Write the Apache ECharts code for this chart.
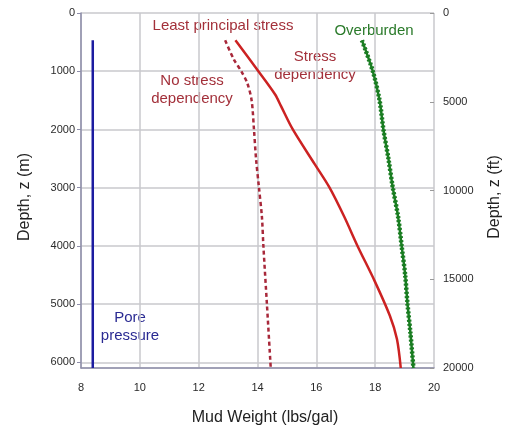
<!DOCTYPE html>
<html><head><meta charset="utf-8">
<script src="https://cdn.jsdelivr.net/npm/echarts@6/dist/echarts.min.js"></script>
<style>html,body{margin:0;padding:0;background:#fff}#c{width:507px;height:429px}</style>
</head><body><div id="c"></div>
<script>
// Depths in metres, mud weights in lbs/gal
var xTicks = [8, 10, 12, 14, 16, 18, 20];
var depthTicksM = [0, 1000, 2000, 3000, 4000, 5000, 6000];
var depthTicksFt = [0, 5000, 10000, 15000, 20000];

var poreDepth = [470, 6096];
var poreMW = [8.4, 8.4];

var stressDepDepth = [470, 1000, 1400, 1600, 2000, 2600, 3000, 3500, 4000, 4600, 5200, 5600, 6096];
var stressDepMW    = [13.25, 14.03, 14.6, 14.8, 15.2, 15.95, 16.45, 16.95, 17.4, 17.98, 18.5, 18.74, 18.87];

var noStressDepth = [470, 800, 1000, 1200, 1500, 2000, 2500, 3000, 3500, 4000, 5000, 6096];
var noStressMW    = [12.9, 13.2, 13.45, 13.65, 13.8, 13.88, 13.95, 14.05, 14.15, 14.2, 14.32, 14.45];

var overDepth = [470, 1000, 1500, 2000, 2500, 3000, 3500, 4000, 4500, 5000, 5500, 6096];
var overMW    = [17.55, 17.92, 18.15, 18.28, 18.45, 18.6, 18.78, 18.9, 19.02, 19.1, 19.2, 19.3];

function pairs(xs, ds){ return xs.map(function(v,i){ return [v, ds[i]]; }); }

var chart = echarts.init(document.getElementById('c'), null, {renderer:'canvas'});
var F = 'Liberation Sans, Arial, sans-serif';
var lblCol = '#2a2a2a';
chart.setOption({
  animation:false,
  backgroundColor:'#fff',
  grid:{left:81, right:73, top:13, bottom:61, containLabel:false},
  xAxis:{type:'value', min:xTicks[0], max:xTicks[xTicks.length-1], interval:2,
    axisLine:{show:true, onZero:false, lineStyle:{color:'#8e8eaa', width:1.5}},
    axisTick:{show:false},
    axisLabel:{color:lblCol, fontFamily:F, fontSize:11, margin:14},
    splitLine:{show:true, lineStyle:{color:'#c8c8cc', width:1.5}}
  },
  yAxis:[
    {type:'value', inverse:true, min:0, max:6096, interval:1000,
     axisLine:{show:true, onZero:false, lineStyle:{color:'#8e8eaa', width:1.5}},
     axisTick:{show:true, length:4, lineStyle:{color:'#8e8eaa'}},
     axisLabel:{color:lblCol, fontFamily:F, fontSize:11, margin:6, showMaxLabel:false,
       formatter:function(v){ return depthTicksM.indexOf(v)>=0 ? String(v) : ''; }},
     splitLine:{show:true, lineStyle:{color:'#c8c8cc', width:1.5}}
    },
    {type:'value', inverse:true, min:0, max:20000, interval:5000, position:'right',
     axisLine:{show:false},
     axisTick:{show:true, inside:true, length:4, lineStyle:{color:'#999'}},
     axisLabel:{color:lblCol, fontFamily:F, fontSize:11, margin:9,
       formatter:function(v){ return depthTicksFt.indexOf(v)>=0 ? String(v) : ''; }},
     splitLine:{show:false}
    }
  ],
  series:[
    {type:'line', name:'Pore pressure', data:pairs(poreMW, poreDepth), showSymbol:false,
     lineStyle:{color:'#1c1ca0', width:2.5}},
    {type:'line', name:'No stress dependency', data:pairs(noStressMW, noStressDepth), showSymbol:false, smooth:0.3,
     lineStyle:{color:'#a8283a', width:2.5, type:[4,3]}},
    {type:'line', name:'Stress dependency', data:pairs(stressDepMW, stressDepDepth), showSymbol:false, smooth:0.3,
     lineStyle:{color:'#cc2222', width:2.5}},
    {type:'line', name:'Overburden', data:pairs(overMW, overDepth), showSymbol:false, smooth:0.3,
     lineStyle:{color:'#1a7d22', width:2.5}},
    {type:'line', name:'Overburden (dotted)', data:pairs(overMW, overDepth), showSymbol:false, smooth:0.3,
     lineStyle:{color:'#1a7d22', width:4.5, type:[2,2]}}
  ],
  graphic:[
    {type:'text', x:25, y:197, rotation:Math.PI/2, style:{text:'Depth, z (m)', font:'16px '+F, fill:'#222', align:'center', verticalAlign:'middle'}},
    {type:'text', x:495, y:197, rotation:Math.PI/2, style:{text:'Depth, z (ft)', font:'16px '+F, fill:'#222', align:'center', verticalAlign:'middle'}},
    {type:'text', x:265, y:418, style:{text:'Mud Weight (lbs/gal)', font:'16px '+F, fill:'#222', align:'center', verticalAlign:'middle'}},
    {type:'text', x:223, y:26, style:{text:'Least principal stress', font:'15px '+F, fill:'#a3303a', align:'center', verticalAlign:'middle'}},
    {type:'text', x:192, y:90, style:{text:'No stress\ndependency', font:'15px '+F, lineHeight:18, fill:'#a3303a', align:'center', verticalAlign:'middle'}},
    {type:'text', x:315, y:66, style:{text:'Stress\ndependency', font:'15px '+F, lineHeight:18, fill:'#a3303a', align:'center', verticalAlign:'middle'}},
    {type:'text', x:374, y:31, style:{text:'Overburden', font:'15px '+F, fill:'#2a7a2a', align:'center', verticalAlign:'middle'}},
    {type:'text', x:130, y:327, style:{text:'Pore\npressure', font:'15px '+F, lineHeight:18, fill:'#2a2a92', align:'center', verticalAlign:'middle'}}
  ]
});
</script></body></html>
